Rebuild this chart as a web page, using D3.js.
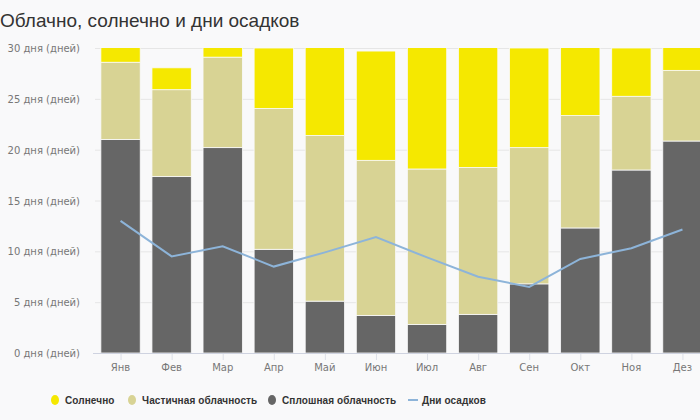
<!DOCTYPE html>
<html>
<head>
<meta charset="utf-8">
<script src="https://cdn.jsdelivr.net/npm/d3@7"></script>
<style>
  body { margin: 0; background: #f9f9fa; }
  svg { display: block; }
</style>
</head>
<body>
<svg id="chart" width="700" height="420"></svg>
<script>
// Data
let months = ["Янв", "Фев", "Мар", "Апр", "Май", "Июн", "Июл", "Авг", "Сен", "Окт", "Ноя", "Дез"];
let overcast = [21.0, 17.35, 20.2, 10.2, 5.1, 3.7, 2.8, 3.8, 6.8, 12.3, 18.0, 20.85];
let partly = [7.6, 8.55, 8.9, 13.85, 16.3, 15.25, 15.3, 14.45, 13.4, 11.05, 7.25, 6.95];
let totalDays = [31, 28.05, 31, 30, 31, 29.7, 31, 31, 30, 31, 30, 31];
let rainDays = [13.0, 9.5, 10.5, 8.5, 9.9, 11.4, 9.4, 7.5, 6.5, 9.25, 10.3, 12.15];
let yTicks = [0, 5, 10, 15, 20, 25, 30];

let colors = { sun: "#f5e800", partly: "#d8d394", overcast: "#666666", rain: "#8db4d9" };

let svg = d3.select("#chart");

let x = d3.scaleBand().domain(months).range([95, 708]).paddingInner(0.23).paddingOuter(0.115);
let y = d3.scaleLinear().domain([0, 30]).range([353, 48]);

// Title
svg.append("text")
  .attr("x", 0).attr("y", 27)
  .attr("font-family", "Liberation Sans, Arial, sans-serif")
  .attr("font-size", 19)
  .attr("fill", "#333")
  .text("Облачно, солнечно и дни осадков");

// Grid
svg.append("g").selectAll("line")
  .data(yTicks.slice(1))
  .join("line")
  .attr("x1", 95).attr("x2", 700)
  .attr("y1", d => y(d) + 0.5).attr("y2", d => y(d) + 0.5)
  .attr("stroke", "#e6e6e6");

// Y labels
svg.append("g").selectAll("text")
  .data(yTicks)
  .join("text")
  .attr("x", 80).attr("y", d => y(d) + 4)
  .attr("text-anchor", "end")
  .attr("font-family", "DejaVu Sans, sans-serif")
  .attr("font-size", 10)
  .attr("fill", "#777")
  .text(d => `${d} дня (дней)`);

// Stacked bars
let rows = months.map((m, i) => ({
  month: m,
  overcast: overcast[i],
  partly: partly[i],
  sun: totalDays[i] - overcast[i] - partly[i]
}));
let stack = d3.stack().keys(["overcast", "partly", "sun"])(rows);

let plot = svg.append("g");
plot.append("clipPath").attr("id", "clip")
  .append("rect").attr("x", 0).attr("y", 48).attr("width", 700).attr("height", 306);

plot.append("g").attr("clip-path", "url(#clip)")
  .selectAll("g")
  .data(stack)
  .join("g")
  .attr("fill", d => colors[d.key])
  .selectAll("rect")
  .data(d => d)
  .join("rect")
  .attr("x", d => x(d.data.month))
  .attr("width", x.bandwidth())
  .attr("y", d => y(d[1]))
  .attr("height", d => y(d[0]) - y(d[1]))
  .attr("stroke", "#f9f9fa")
  .attr("stroke-width", 0.8);

// X axis
svg.append("line")
  .attr("x1", 93).attr("x2", 700)
  .attr("y1", 353.5).attr("y2", 353.5)
  .attr("stroke", "#cfd3e0");

svg.append("g").selectAll("line")
  .data(months)
  .join("line")
  .attr("x1", d => x(d) + x.bandwidth() / 2 + 0.5)
  .attr("x2", d => x(d) + x.bandwidth() / 2 + 0.5)
  .attr("y1", 354).attr("y2", 360)
  .attr("stroke", "#dde0e8");

svg.append("g").selectAll("text")
  .data(months)
  .join("text")
  .attr("x", d => x(d) + x.bandwidth() / 2)
  .attr("y", 371)
  .attr("text-anchor", "middle")
  .attr("font-family", "DejaVu Sans, sans-serif")
  .attr("font-size", 10)
  .attr("fill", "#777")
  .text(d => d);

// Rain days line
let line = d3.line()
  .x((d, i) => x(months[i]) + x.bandwidth() / 2)
  .y(d => y(d));

svg.append("path")
  .datum(rainDays)
  .attr("d", line)
  .attr("fill", "none")
  .attr("stroke", colors.rain)
  .attr("stroke-width", 2);

// Legend
let legend = [
  { label: "Солнечно", color: colors.sun, type: "dot", x: 55 },
  { label: "Частичная облачность", color: colors.partly, type: "dot", x: 132 },
  { label: "Сплошная облачность", color: colors.overcast, type: "dot", x: 272 },
  { label: "Дни осадков", color: colors.rain, type: "line", x: 413 }
];

let lg = svg.append("g").selectAll("g")
  .data(legend)
  .join("g")
  .attr("transform", d => `translate(${d.x},400)`);

lg.filter(d => d.type === "dot").append("ellipse")
  .attr("rx", 4).attr("ry", 5)
  .attr("fill", d => d.color);

lg.filter(d => d.type === "line").append("line")
  .attr("x1", -5).attr("x2", 5)
  .attr("stroke", d => d.color)
  .attr("stroke-width", 2);

lg.append("text")
  .attr("x", d => d.type === "dot" ? 10 : 9)
  .attr("y", 4)
  .attr("font-family", "Liberation Sans, Arial, sans-serif")
  .attr("font-weight", "bold")
  .attr("font-size", 10)
  .attr("letter-spacing", 0.1)
  .attr("fill", "#333")
  .text(d => d.label);
</script>
</body>
</html>
